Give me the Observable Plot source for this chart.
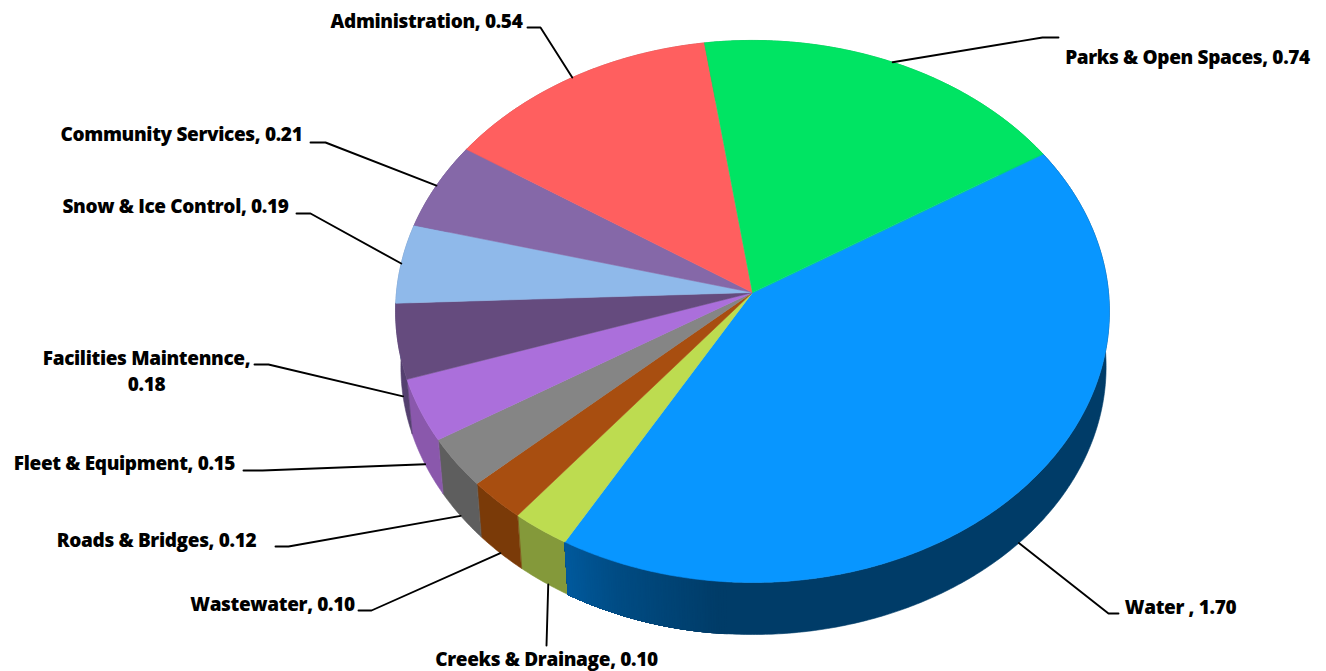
<!DOCTYPE html>
<html>
<head>
<meta charset="utf-8">
<script src="https://cdn.jsdelivr.net/npm/d3@7"></script>
<script src="https://cdn.jsdelivr.net/npm/@observablehq/plot@0.6"></script>
<style>
  html, body { margin: 0; background: #fff; }
  svg text { letter-spacing: -0.35px; }
</style>
</head>
<body>
<div id="chart"></div>
<script>
// Budget shares, clockwise from the Water slice.
const categories = ["Water ", "Creeks & Drainage", "Wastewater", "Roads & Bridges", "Fleet & Equipment",
  "Facilities Maintennce", "Snow & Ice Control", "Community Services", "Administration", "Parks & Open Spaces"];
const values = [1.70, 0.10, 0.10, 0.12, 0.15, 0.18, 0.19, 0.21, 0.54, 0.74];
const topColors = ["#0896ff", "#bddc50", "#a84e10", "#858585", "#ab6fdb",
  "#654b7e", "#8fb9ea", "#8568a8", "#ff5f5f", "#00e463"];
const sideColors = ["#003c68", "#84993a", "#7a3a08", "#5e5e5e", "#8a58ac",
  "#54406f", "#6f90b8", "#6a5386", "#c04a4a", "#00ad4b"];

// Label centres and leader elbows, in page pixels.
const labelCenters = [[1180, 605], [546, 657], [272, 602], [156, 538], [124, 461],
  [146, 369], [175, 204], [181, 132], [426, 19], [1187, 55]];
const leaderElbows = [
  [[1108, 613], [1118, 613]],
  [[546, 645]],
  [[371, 610], [358, 610]],
  [[288, 546], [275, 546]],
  [[262, 470], [243, 470]],
  [[268, 364], [254, 364]],
  [[310, 213], [296, 213]],
  [[325, 142], [310, 142]],
  [[540, 27], [527, 27]],
  [[1042, 37], [1058, 37]]
];
// Front slices hang their leader from the lower rim, rear ones from the top rim.
const leaderOnLowerRim = [true, true, true, true, true, true, false, false, false, false];
const leaderNudgeDeg = [0.4, -0.8, 0, 0, 0, 0, 0, 0, 0, 0];

// Perspective view of the disc: the hub sits above the centre of the rim ellipse.
const hub = {x: 752, y: 292};
const view = {a: 356, b: 269.7, k: 0.07, startDeg: -32.2};
const lowerRim = {scale: 0.988, drop: 55.5, shift: 1};

function place(deg, lower) {
  const t = deg * Math.PI / 180;
  const u = Math.cos(t), v = Math.sin(t);
  const w = 1 - view.k * v;
  const s = lower ? lowerRim.scale : 1;
  return {
    x: hub.x + (lower ? lowerRim.shift : 0) + s * view.a * u / w,
    y: hub.y + (lower ? lowerRim.drop : 0) + s * view.b * v / w
  };
}

const total = d3.sum(values);
const sweep = values.map(v => v / total * 360);
const starts = sweep.map((_, i) => view.startDeg + d3.sum(sweep.slice(0, i)));
const arc = (a, b) => {
  const n = Math.max(2, Math.ceil((b - a) / 0.5));
  return d3.range(n + 1).map(i => a + (b - a) * i / n);
};

// The long Water wall catches light towards its left end.
const waterShade = d3.scaleLinear().domain([95, 111, 120]).range(["#003c68", "#004c84", "#005a9e"]).clamp(true);

function wallPolygon(id, color, a, b) {
  const angles = arc(a, b);
  return [
    ...angles.map(d => ({id, color, ...place(d, false)})),
    ...angles.slice().reverse().map(d => ({id, color, ...place(d, true)}))
  ];
}

const wallRows = values.flatMap((_, i) => wallPolygon(`wall-${i}`, sideColors[i], starts[i], starts[i] + sweep[i]));

// Overlapping strips painted from the dark end towards the lit end of the Water
// wall: each one runs on to the slice's end, so no seam shows between them.
const waterEnd = starts[0] + sweep[0];
const stripStarts = d3.range(94, waterEnd, 0.4);
const stripRows = stripStarts.map((f, i) => wallPolygon(`strip-${i}`, waterShade(f), f, waterEnd));

const sliceRows = values.flatMap((_, i) => {
  const id = `slice-${i}`, color = topColors[i];
  return [
    {id, color, x: hub.x, y: hub.y},
    ...arc(starts[i], starts[i] + sweep[i]).map(d => ({id, color, ...place(d, false)}))
  ];
});

const leaderRows = values.flatMap((_, i) => [
  {id: i, ...place(starts[i] + sweep[i] / 2 + leaderNudgeDeg[i], leaderOnLowerRim[i])},
  ...leaderElbows[i].map(([x, y]) => ({id: i, x, y}))
]);

const labels = categories.map((c, i) => ({
  text: c + (c.startsWith("Facilities") ? ",\n" : ", ") + values[i].toFixed(2),
  x: labelCenters[i][0],
  y: labelCenters[i][1]
}));

const discOptions = {x: "x", y: "y", z: "id", fill: "color", stroke: "color", strokeWidth: 0.6, curve: "linear-closed"};

document.getElementById("chart").append(Plot.plot({
  width: 1326,
  height: 671,
  margin: 0,
  style: {background: "#fff"},
  x: {domain: [0, 1326], range: [0, 1326], axis: null},
  y: {domain: [0, 671], range: [0, 671], axis: null},
  color: {type: "identity"},
  marks: [
    Plot.line(wallRows, discOptions),
    stripRows.map(rows => Plot.line(rows, discOptions)),
    Plot.line(sliceRows, discOptions),
    Plot.line(leaderRows, {x: "x", y: "y", z: "id", stroke: "#000", strokeWidth: 1.9, strokeLinejoin: "miter"}),
    Plot.text(labels, {
      x: "x", y: "y", text: "text",
      fontFamily: "Open Sans", fontWeight: 800, fontSize: 19,
      lineHeight: 1.37, fill: "#000"
    })
  ]
}));
</script>
</body>
</html>
